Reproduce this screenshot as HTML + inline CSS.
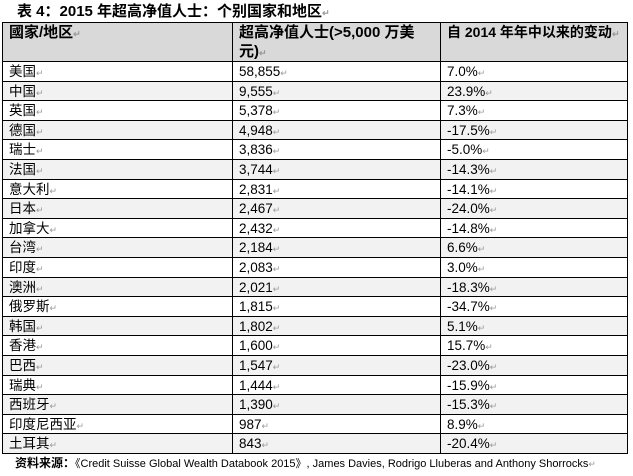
<!DOCTYPE html>
<html><head><meta charset="utf-8"><style>
body{margin:0;width:633px;height:476px;background:#fff;position:relative;overflow:hidden;font-family:"Liberation Sans","Noto Sans CJK SC",sans-serif;color:#000}
.t{position:absolute;left:17px;top:3px;font-size:15px;line-height:17px;font-weight:bold;white-space:nowrap}
.tb{position:absolute;left:2px;top:22px;width:626px;border-right:1px solid #000;border-bottom:1px solid #000;box-sizing:border-box}
.row{display:flex;height:19.6px;border-top:1px solid #000;box-sizing:border-box;overflow:hidden}
.row.h{height:39px;background:#d9d9d9;font-weight:bold;font-size:15px;line-height:19px}
.row:nth-child(odd):not(.h){background:#f2f2f2}
.c{border-left:1px solid #000;box-sizing:border-box;padding-left:6px;font-size:13.5px;line-height:19px;white-space:nowrap;overflow:hidden}
.h .c{font-size:15px;line-height:19px;white-space:normal}
.c1{width:230px}.c2{width:208px}.c3{width:187px}
.r{color:#999;font-size:9px}
.f{position:absolute;left:15px;top:457px;font-size:11px;line-height:13px;white-space:nowrap}
</style></head><body>
<div class="t">表 4：2015 年超高净值人士：个别国家和地区<span class="r">↵</span></div>
<div class="tb">
<div class="row h"><div class="c c1">國家/地区<span class="r">↵</span></div><div class="c c2">超高净值人士(&gt;5,000 万美元)<span class="r">↵</span></div><div class="c c3" style="white-space:nowrap;font-size:14px">自 2014 年年中以来的变动<span class="r">↵</span></div></div>
<div class="row"><div class="c c1">美国<span class="r">↵</span></div><div class="c c2">58,855<span class="r">↵</span></div><div class="c c3">7.0%<span class="r">↵</span></div></div>
<div class="row"><div class="c c1">中国<span class="r">↵</span></div><div class="c c2">9,555<span class="r">↵</span></div><div class="c c3">23.9%<span class="r">↵</span></div></div>
<div class="row"><div class="c c1">英国<span class="r">↵</span></div><div class="c c2">5,378<span class="r">↵</span></div><div class="c c3">7.3%<span class="r">↵</span></div></div>
<div class="row"><div class="c c1">德国<span class="r">↵</span></div><div class="c c2">4,948<span class="r">↵</span></div><div class="c c3">-17.5%<span class="r">↵</span></div></div>
<div class="row"><div class="c c1">瑞士<span class="r">↵</span></div><div class="c c2">3,836<span class="r">↵</span></div><div class="c c3">-5.0%<span class="r">↵</span></div></div>
<div class="row"><div class="c c1">法国<span class="r">↵</span></div><div class="c c2">3,744<span class="r">↵</span></div><div class="c c3">-14.3%<span class="r">↵</span></div></div>
<div class="row"><div class="c c1">意大利<span class="r">↵</span></div><div class="c c2">2,831<span class="r">↵</span></div><div class="c c3">-14.1%<span class="r">↵</span></div></div>
<div class="row"><div class="c c1">日本<span class="r">↵</span></div><div class="c c2">2,467<span class="r">↵</span></div><div class="c c3">-24.0%<span class="r">↵</span></div></div>
<div class="row"><div class="c c1">加拿大<span class="r">↵</span></div><div class="c c2">2,432<span class="r">↵</span></div><div class="c c3">-14.8%<span class="r">↵</span></div></div>
<div class="row"><div class="c c1">台湾<span class="r">↵</span></div><div class="c c2">2,184<span class="r">↵</span></div><div class="c c3">6.6%<span class="r">↵</span></div></div>
<div class="row"><div class="c c1">印度<span class="r">↵</span></div><div class="c c2">2,083<span class="r">↵</span></div><div class="c c3">3.0%<span class="r">↵</span></div></div>
<div class="row"><div class="c c1">澳洲<span class="r">↵</span></div><div class="c c2">2,021<span class="r">↵</span></div><div class="c c3">-18.3%<span class="r">↵</span></div></div>
<div class="row"><div class="c c1">俄罗斯<span class="r">↵</span></div><div class="c c2">1,815<span class="r">↵</span></div><div class="c c3">-34.7%<span class="r">↵</span></div></div>
<div class="row"><div class="c c1">韩国<span class="r">↵</span></div><div class="c c2">1,802<span class="r">↵</span></div><div class="c c3">5.1%<span class="r">↵</span></div></div>
<div class="row"><div class="c c1">香港<span class="r">↵</span></div><div class="c c2">1,600<span class="r">↵</span></div><div class="c c3">15.7%<span class="r">↵</span></div></div>
<div class="row"><div class="c c1">巴西<span class="r">↵</span></div><div class="c c2">1,547<span class="r">↵</span></div><div class="c c3">-23.0%<span class="r">↵</span></div></div>
<div class="row"><div class="c c1">瑞典<span class="r">↵</span></div><div class="c c2">1,444<span class="r">↵</span></div><div class="c c3">-15.9%<span class="r">↵</span></div></div>
<div class="row"><div class="c c1">西班牙<span class="r">↵</span></div><div class="c c2">1,390<span class="r">↵</span></div><div class="c c3">-15.3%<span class="r">↵</span></div></div>
<div class="row"><div class="c c1">印度尼西亚<span class="r">↵</span></div><div class="c c2">987<span class="r">↵</span></div><div class="c c3">8.9%<span class="r">↵</span></div></div>
<div class="row"><div class="c c1">土耳其<span class="r">↵</span></div><div class="c c2">843<span class="r">↵</span></div><div class="c c3">-20.4%<span class="r">↵</span></div></div>
</div>
<div class="f"><b style="font-size:12px">资料来源：</b>《Credit Suisse Global Wealth Databook 2015》, James Davies, Rodrigo Lluberas and Anthony Shorrocks<span class="r">↵</span></div>
</body></html>
